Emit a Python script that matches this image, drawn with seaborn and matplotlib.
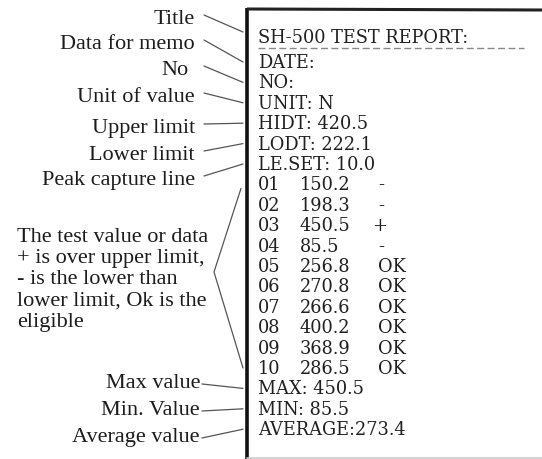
import numpy as np
import pandas as pd
import matplotlib.pyplot as plt
import seaborn as sns

sns.set_style("white")
plt.rcParams["font.family"] = ["Liberation Serif", "DejaVu Serif"]

# ---- contenido del informe ----
report_title = "SH-500 TEST REPORT:"
header_fields = ["DATE:", "NO:", "UNIT: N", "HIDT: 420.5", "LODT: 222.1", "LE.SET: 10.0"]
reading_no = ["01", "02", "03", "04", "05", "06", "07", "08", "09", "10"]
reading_val = ["150.2", "198.3", "450.5", "85.5", "256.8", "270.8", "266.6", "400.2", "368.9", "286.5"]
reading_flag = ["-", "-", "+", "-", "OK", "OK", "OK", "OK", "OK", "OK"]
summary_fields = ["MAX: 450.5", "MIN: 85.5", "AVERAGE:273.4"]

# ---- anotaciones de la izquierda ----
top_labels = ["Title", "Data for memo", "No", "Unit of value", "Upper limit",
              "Lower limit", "Peak capture line"]
note_lines = ["The test value or data", "+ is over upper limit,",
              "- is the lower than", "lower limit, Ok is the", "eligible"]
bottom_labels = ["Max value", "Min. Value", "Average value"]

W, H = 542, 459
fig = plt.figure(figsize=(W / 100, H / 100), dpi=100)
ax = fig.add_axes([0, 0, 1, 1])
ax.set_xlim(0, W)
ax.set_ylim(H, 0)
ax.axis("off")

ink = "#1c1c1c"
line_c = "#555555"

# layout de filas (baselines en px)
x_txt = 258
title_base = 43
row0, step = 68, 20.4
rows_text = header_fields + [None] * len(reading_no) + summary_fields
row_base = [row0 + k * step for k in range(len(rows_text))]

# caja del ticket
ax.plot([247, 247], [8, H], color="#111111", lw=2.6, solid_capstyle="butt")
ax.plot([247, W], [9, 10], color="#222222", lw=2.2, solid_capstyle="butt")
ax.plot([247, W], [H - 1, H - 1], color="#cccccc", lw=1.2)

# texto del informe (serif con cifras de ancho fijo)
mono = {"family": "DejaVu Serif", "fontsize": 12.8, "color": "#202020", "va": "baseline"}
ax.text(x_txt, title_base, report_title, **mono)
ax.plot([x_txt, 524], [48, 48], color="#888888", lw=1.0, ls=(0, (5, 2.5)))
for k, t in enumerate(rows_text):
    if t is not None:
        ax.text(x_txt, row_base[k], t, **mono)
off = len(header_fields)
for i, (n, v, f) in enumerate(zip(reading_no, reading_val, reading_flag)):
    y = row_base[off + i]
    ax.text(x_txt, y, n, **mono)
    ax.text(300, y, v, **mono)
    ax.text(372 if f == "+" else 378, y, f, **mono)

# etiquetas y líneas guía
fs_l = 16
lab_right = 195
top_base = [24, 49, 75, 102, 133, 160, 185]
bot_base = [388, 415, 442]
top_rows = [None, 0, 1, 2, 3, 4, 5]
bot_rows = [len(rows_text) - 3, len(rows_text) - 2, len(rows_text) - 1]

segs = []
for j, (lab, yb, r) in enumerate(zip(top_labels, top_base, top_rows)):
    ax.text(lab_right if lab != "No" else lab_right - 7, yb, lab, fontsize=fs_l,
            color=ink, ha="right", va="baseline")
    y_end = (title_base - 11) if r is None else row_base[r] - 6
    segs.append(pd.DataFrame({"x": [lab_right + 9, 243], "y": [yb - 9, y_end], "seg": j}))
for j, (lab, yb, r) in enumerate(zip(bottom_labels, bot_base, bot_rows)):
    ax.text(lab_right + 5, yb, lab, fontsize=fs_l, color=ink, ha="right", va="baseline")
    segs.append(pd.DataFrame({"x": [lab_right + 7, 243], "y": [yb - 4, row_base[r] - 6],
                              "seg": 100 + j}))

note_base = [242, 263, 284, 306, 327]
for t, yb in zip(note_lines, note_base):
    ax.text(17, yb, t, fontsize=fs_l, color=ink, ha="left", va="baseline")

# corchete hacia las lecturas 01-10
segs.append(pd.DataFrame({"x": [241, 214, 243],
                          "y": [row_base[off] - 2, 272, row_base[off + 9] - 6], "seg": 200}))

lines = pd.concat(segs, ignore_index=True)
sns.lineplot(data=lines, x="x", y="y", units="seg", estimator=None, sort=False,
             color=line_c, lw=0.9, ax=ax, legend=False)
ax.set_xlim(0, W)
ax.set_ylim(H, 0)
ax.axis("off")

fig.savefig("out.png", dpi=100)
